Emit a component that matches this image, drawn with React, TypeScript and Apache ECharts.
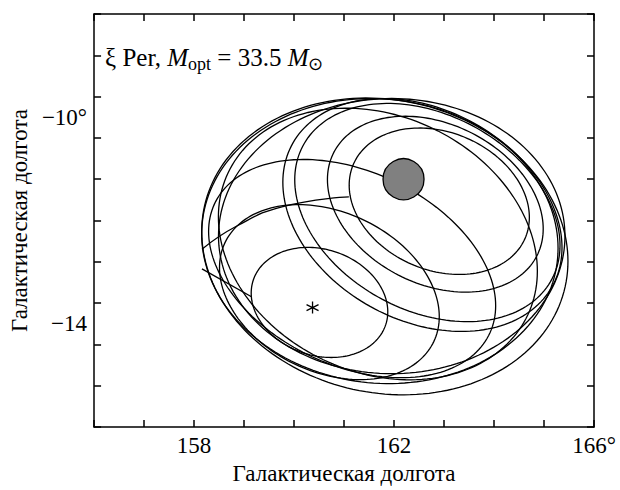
import React, { useEffect, useRef } from "react";
import * as echarts from "echarts";

// Tick labels
const xTickLabels: Record<number, string> = { 158: "158", 162: "162", 166: "166°" };
const yTickLabels: Record<number, string> = { [-10]: "−10°", [-14]: "−14" };

// Confidence ellipses: centre (deg), half-extents (deg), correlation
const ellCx = [162.905, 162.826, 162.667, 162.568, 160.509, 160.707, 161.162, 161.677, 161.816, 161.717, 161.954];
const ellCy = [-11.626, -11.683, -11.845, -11.892, -13.586, -13.386, -12.93, -12.454, -12.501, -12.397, -12.301];
const ellSx = [1.802, 2.158, 2.653, 2.792, 1.366, 2.198, 2.871, 3.19, 3.663, 3.564, 3.465];
const ellSy = [1.418, 1.703, 2.113, 2.255, 1.066, 1.694, 2.113, 2.63, 2.874, 2.76, 2.665];
const ellRho = [-0.22, -0.28, -0.3, -0.28, -0.17, -0.28, -0.34, -0.2, -0.1, -0.05, 0.0];

// Connecting boundary segments
const segA = [
  [158.158, -12.555],
  [158.846, -12.111],
  [159.776, -11.73],
  [161.097, -11.54],
];
const segB = [
  [158.158, -12.935],
  [159.149, -13.476],
];

// Markers
const clusterPos = [162.19, -11.2];
const starPos = [160.37, -13.685];

const FONT = "'Liberation Serif', 'Times New Roman', serif";

export default function App() {
  const ref = useRef<HTMLDivElement>(null);
  useEffect(() => {
    if (!ref.current) return;
    const chart = echarts.init(ref.current, null, { renderer: "svg" });
    const ellipseData = ellCx.map((cx, i) => [cx, ellCy[i], ellSx[i], ellSy[i], ellRho[i]]);
    const axisLine = { show: true, lineStyle: { color: "#000", width: 1.5 } };
    const tick = { show: true, inside: true, length: 7, lineStyle: { color: "#000", width: 1.5 } };
    const option: any = {
      animation: false,
      backgroundColor: "#fff",
      textStyle: { fontFamily: FONT },
      grid: { left: 89, top: 14, width: 505, height: 420, containLabel: false },
      xAxis: [
        {
          type: "value", position: "bottom", min: 156, max: 166, interval: 1,
          axisLine, axisTick: tick, splitLine: { show: false },
          axisLabel: {
            margin: 7, color: "#000", fontFamily: FONT, fontSize: 23,
            formatter: (v: number) => xTickLabels[Math.round(v)] ?? "",
            showMinLabel: true, showMaxLabel: true, hideOverlap: false,
          },
          name: "Галактическая долгота", nameLocation: "middle", nameGap: 34,
          nameTextStyle: { color: "#000", fontFamily: FONT, fontSize: 23 },
        },
        {
          type: "value", position: "top", min: 156, max: 166, interval: 1,
          axisLine, axisTick: tick, splitLine: { show: false }, axisLabel: { show: false },
        },
      ],
      yAxis: [
        {
          type: "value", position: "left", min: -16, max: -8, interval: 0.8,
          axisLine, axisTick: tick, splitLine: { show: false }, axisLabel: { show: false },
        },
        {
          type: "value", position: "right", min: -16, max: -8, interval: 0.8,
          axisLine, axisTick: tick, splitLine: { show: false }, axisLabel: { show: false },
        },
        {
          type: "value", position: "left", min: -16, max: -8, interval: 2,
          axisLine: { show: false }, axisTick: { show: false }, splitLine: { show: false },
          axisLabel: {
            margin: 7, color: "#000", fontFamily: FONT, fontSize: 23,
            formatter: (v: number) => yTickLabels[Math.round(v)] ?? "",
          },
          name: "Галактическая долгота", nameLocation: "middle", nameGap: 62, nameRotate: 90,
          nameTextStyle: { color: "#000", fontFamily: FONT, fontSize: 23 },
        },
      ],
      graphic: [
        {
          type: "text", left: 105, top: 45,
          style: {
            text: "{r|ξ Per, }{i|M}{s|opt}{r| = 33.5 }{i|M}{s|⊙}",
            fontFamily: FONT, fontSize: 25, fill: "#000",
            rich: {
              r: { fontFamily: FONT, fontSize: 25, color: "#000" },
              i: { fontStyle: "italic", fontFamily: FONT, fontSize: 25, color: "#000" },
              s: { fontFamily: FONT, fontSize: 18, padding: [12, 0, 0, 0], color: "#000" },
            },
          },
        },
      ],
      series: [
        {
          type: "custom", xAxisIndex: 0, yAxisIndex: 0, data: ellipseData,
          renderItem: (params: any, api: any) => {
            const cx = api.value(0), cy = api.value(1), sx = api.value(2), sy = api.value(3), rho = api.value(4);
            const phi = Math.acos(rho);
            const pts: number[][] = [];
            const N = 180;
            for (let k = 0; k <= N; k++) {
              const t = (2 * Math.PI * k) / N;
              pts.push(api.coord([cx + sx * Math.cos(t), cy + sy * Math.cos(t - phi)]));
            }
            return { type: "polygon", shape: { points: pts }, style: { fill: "none", stroke: "#000", lineWidth: 1.3 } };
          },
          z: 2,
        },
        {
          type: "line", data: segA, smooth: true, symbol: "none",
          lineStyle: { color: "#000", width: 1.3 }, z: 2,
        },
        {
          type: "line", data: segB, symbol: "none",
          lineStyle: { color: "#000", width: 1.3 }, z: 2,
        },
        {
          type: "scatter", data: [clusterPos], symbol: "circle", symbolSize: 41,
          itemStyle: { color: "#808080", borderColor: "#000", borderWidth: 1.3, opacity: 1 }, z: 3,
        },
        {
          type: "scatter", data: [starPos],
          symbol: "path://M0,-6L0,6M-5.2,-3L5.2,3M-5.2,3L5.2,-3",
          symbolSize: 12,
          itemStyle: { color: "rgba(0,0,0,0)", borderColor: "#000", borderWidth: 1.3, opacity: 1 }, z: 3,
        },
      ],
    };
    chart.setOption(option);
    return () => chart.dispose();
  }, []);
  return <div ref={ref} style={{ width: 620, height: 490, position: "absolute", left: 0, top: 0 }} />;
}
